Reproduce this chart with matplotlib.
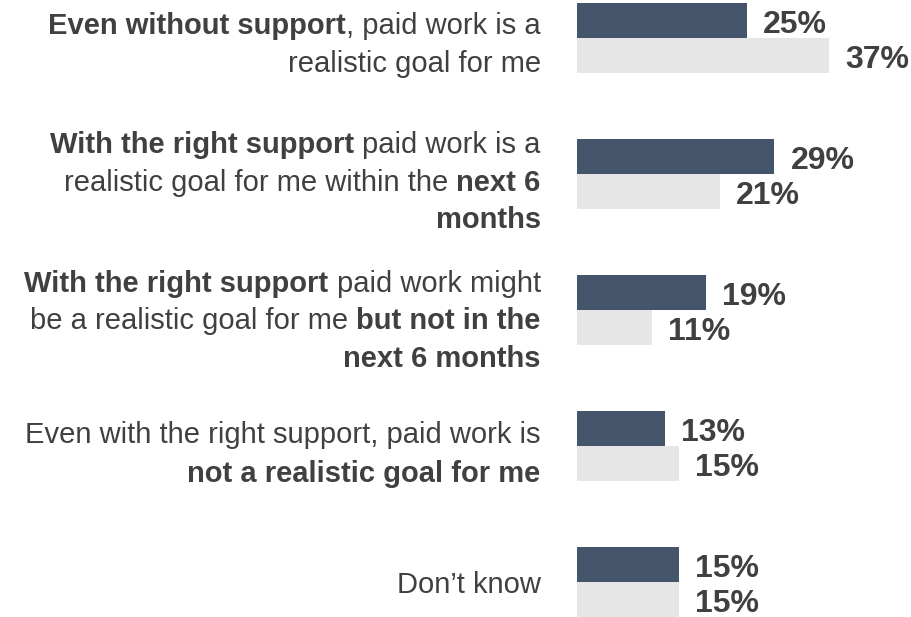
import matplotlib
matplotlib.use("Agg")
import matplotlib.pyplot as plt
import numpy as np

# Statements shown on the left; each line is a list of (text, is_bold) runs
categories = [
    [[("Even without support", True), (", paid work is a", False)],
     [("realistic goal for me", False)]],
    [[("With the right support", True), (" paid work is a", False)],
     [("realistic goal for me within the ", False), ("next 6", True)],
     [("months", True)]],
    [[("With the right support", True), (" paid work might", False)],
     [("be a realistic goal for me ", False), ("but not in the", True)],
     [("next 6 months", True)]],
    [[("Even with the right support, paid work is", False)],
     [("not a realistic goal for me", True)]],
    [[("Don\u2019t know", False)]],
]

# Percentages for the two groups compared in each row
series_dark = [25, 29, 19, 13, 15]
series_light = [37, 21, 11, 15, 15]

# Baselines of each label line, in pixels from the top
label_baselines = [
    [34.3, 71.7],
    [153.3, 191.0, 228.5],
    [291.7, 329.0, 366.7],
    [443.3, 481.7],
    [593.3],
]

W, H = 912, 617
FONT = "Liberation Sans"
TEXT = "#404040"
DARK = "#44546A"
LIGHT = "#E6E6E6"

fig = plt.figure(figsize=(W / 100, H / 100), dpi=100)
fig.patch.set_facecolor("white")

# Bar panel
x0_px, px_per_unit = 576.7, 6.82
xmax = 49
ax = fig.add_axes([x0_px / W, 0, xmax * px_per_unit / W, 1])
ax.set_xlim(0, xmax)
row_px = 136.0
first_center = 38.0
ax.set_ylim((H - first_center) / row_px, -first_center / row_px)
bar_h = 35.3 / row_px

idx = np.arange(len(series_dark))
ax.barh(idx - bar_h / 2, series_dark, height=bar_h, color=DARK, linewidth=0)
ax.barh(idx + bar_h / 2, series_light, height=bar_h, color=LIGHT, linewidth=0)

for i in idx:
    for val, yc in ((series_dark[i], i - bar_h / 2), (series_light[i], i + bar_h / 2)):
        ax.annotate(f"{val}%", xy=(val, yc), xytext=(16, -12.3),
                    textcoords="offset pixels", ha="left", va="baseline",
                    fontsize=23, fontweight="bold", family=FONT, color=TEXT,
                    annotation_clip=False)
ax.axis("off")

# Left-hand statements with mixed bold / regular runs, right-aligned
renderer = fig.canvas.get_renderer()
LABEL_SIZE = 21


def text_width(s, bold):
    t = fig.text(0, 0, s, fontsize=LABEL_SIZE, family=FONT,
                 fontweight="bold" if bold else "normal")
    w = t.get_window_extent(renderer).width
    t.remove()
    return w


space_w = text_width("a a", False) - text_width("aa", False)
x_right = 540.7

for lines, baselines in zip(categories, label_baselines):
    for runs, yb in zip(lines, baselines):
        pieces = []
        total = 0.0
        for s, bold in runs:
            lead = len(s) - len(s.lstrip(" "))
            trail = len(s) - len(s.rstrip(" "))
            core = s.strip(" ")
            w = text_width(core, bold)
            pieces.append((core, bold, lead * space_w, w, trail * space_w))
            total += lead * space_w + w + trail * space_w
        x = x_right - total
        for core, bold, gap_before, w, gap_after in pieces:
            x += gap_before
            fig.text(x / W, (H - yb) / H, core, fontsize=LABEL_SIZE, family=FONT,
                     fontweight="bold" if bold else "normal", color=TEXT,
                     ha="left", va="baseline")
            x += w + gap_after

fig.savefig("out.png", dpi=100)
